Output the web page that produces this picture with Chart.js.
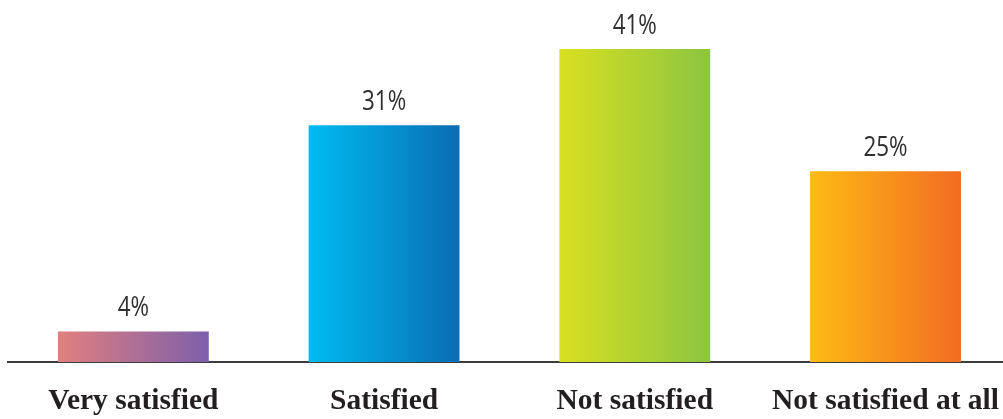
<!DOCTYPE html>
<html>
<head>
<meta charset="utf-8">
<script src="https://cdn.jsdelivr.net/npm/chart.js@4/dist/chart.umd.min.js"></script>
<style>
  html, body { margin: 0; padding: 0; background: #fff; overflow: hidden; }
  #wrap { position: relative; width: 1021px; height: 419px; }
</style>
</head>
<body>
<div id="wrap"><canvas id="c" width="1021" height="419"></canvas></div>
<script>
const categories = ["Very satisfied", "Satisfied", "Not satisfied", "Not satisfied at all"];
const values = [4, 31, 41, 25];
const valueLabels = ["4%", "31%", "41%", "25%"];
const gradientStarts = ["#e2807f", "#00bcf0", "#d9e021", "#fdbb14"];
const gradientEnds = ["#7d5fab", "#0a6cb4", "#8cc540", "#f26c22"];

function barFill(context) {
  const chart = context.chart;
  const area = chart.chartArea;
  const i = context.dataIndex;
  if (!area || i === undefined) return gradientStarts[i || 0];
  const xs = chart.scales.x;
  const cx = xs.getPixelForValue(i);
  const half = (xs.width / categories.length) * 0.6016 / 2;
  const g = chart.ctx.createLinearGradient(cx - half, 0, cx + half, 0);
  g.addColorStop(0, gradientStarts[i]);
  g.addColorStop(1, gradientEnds[i]);
  return g;
}

const valueLabelPlugin = {
  id: 'valueLabels',
  afterDatasetsDraw(chart) {
    const ctx = chart.ctx;
    const meta = chart.getDatasetMeta(0);
    const sx = 0.83;
    meta.data.forEach((bar, i) => {
      ctx.save();
      ctx.font = '400 27px "Open Sans", "Noto Sans", sans-serif';
      ctx.fillStyle = '#2f2f2f';
      ctx.textAlign = 'center';
      ctx.textBaseline = 'alphabetic';
      ctx.translate(bar.x, bar.y - 15);
      ctx.scale(sx, 1);
      ctx.fillText(valueLabels[i], 0, 0);
      ctx.restore();
    });
  }
};

new Chart(document.getElementById('c'), {
  type: 'bar',
  data: {
    labels: categories,
    datasets: [{
      data: values,
      backgroundColor: barFill,
      borderWidth: 0,
      categoryPercentage: 1,
      barPercentage: 0.6016
    }]
  },
  options: {
    responsive: false,
    animation: false,
    events: [],
    layout: { padding: { top: 49, left: 8, right: 0, bottom: 0 } },
    plugins: { legend: { display: false }, tooltip: { enabled: false } },
    scales: {
      x: {
        grid: { display: false, drawTicks: false },
        border: { display: true, color: '#3d3d3d', width: 2 },
        ticks: {
          color: '#231f20',
          padding: 22,
          font: { family: '"Liberation Serif", "Times New Roman", serif', size: 29.5, weight: 'bold' }
        },
        afterFit(scale) { scale.height = 57; }
      },
      y: {
        display: false,
        min: 0,
        max: 41
      }
    }
  },
  plugins: [valueLabelPlugin]
});
</script>
</body>
</html>
